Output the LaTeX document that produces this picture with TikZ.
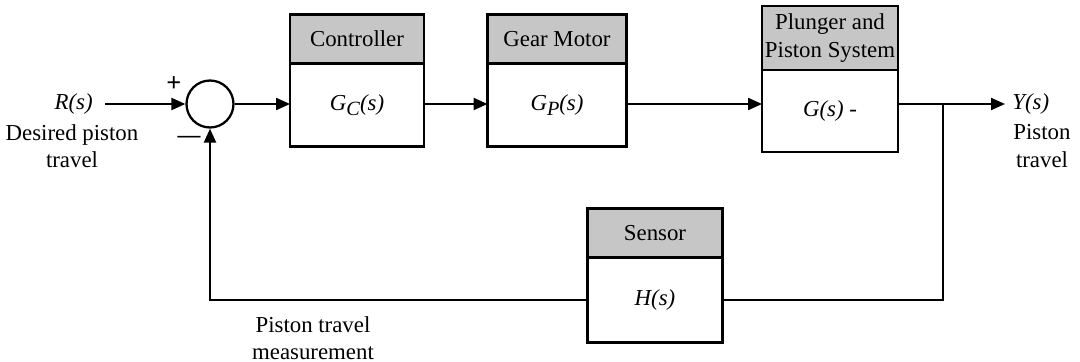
\documentclass[tikz,border=0pt]{standalone}
\usepackage{fontspec}
\setmainfont{Liberation Serif}
\usetikzlibrary{arrows.meta, positioning}

\newcommand{\lowsub}[1]{\raisebox{-0.45ex}{\fontsize{11.5}{12}\selectfont\textit{#1}}}

\begin{document}
\begin{tikzpicture}[
    x=0.02cm, y=-0.02cm,
    font=\fontsize{13}{15.5}\selectfont,
    body/.style={rectangle, draw, line width=1.3pt, fill=white, minimum height=1.66cm, inner sep=0pt, outer sep=0pt},
    header/.style={rectangle, draw, line width=1.3pt, fill=gray!45, minimum height=0.98cm, inner sep=0pt, outer sep=0pt, align=center},
    sumjunction/.style={circle, draw, line width=1.3pt, minimum size=0.94cm, inner sep=0pt},
    label/.style={align=center, inner sep=0pt},
    arrow/.style={-{Triangle[length=0.28cm, width=0.24cm]}, line width=1.3pt},
    line/.style={line width=1.3pt},
]
    \useasboundingbox (0,0) rectangle (1080,362);

    % summing junction and input
    \node[sumjunction] (sum) at (210,104) {};
    \coordinate (in) at (105,104);
    \node[label, anchor=east] (rlabel) at (93,104) {\textit{R(s)}};
    \node[label] (rtext) at (72,146) {Desired piston\\travel};
    \node[label, font=\fontsize{15}{15}\selectfont\bfseries] (plus) at (174,84) {+};
    \node[label, font=\fontsize{13}{15}\selectfont\bfseries] (minus) at (189,139) {\textemdash};

    % forward path blocks
    \node[body, minimum width=2.68cm] (ctrl) at (357,105) {\textit{G}\lowsub{C}\textit{(s)}};
    \node[header, minimum width=2.68cm, above=0pt of ctrl] (ctrlhead) {Controller};

    \node[body, minimum width=2.78cm] (motor) at (557,105) {\textit{G}\lowsub{P}\textit{(s)}};
    \node[header, minimum width=2.78cm, above=0pt of motor] (motorhead) {Gear Motor};

    \node[body, minimum width=2.72cm, minimum height=1.64cm] (plant) at (830,111) {\textit{G(s)} -};
    \node[header, minimum width=2.72cm, minimum height=1.28cm, above=0pt of plant] (planthead) {Plunger and\\Piston System};

    % feedback block
    \node[body, minimum width=2.7cm, minimum height=1.7cm] (sensor) at (655,300) {\textit{H(s)}};
    \node[header, minimum width=2.7cm, above=0pt of sensor] (sensorhead) {Sensor};

    % output
    \coordinate (branch) at (943,104);
    \coordinate (out) at (1005,104);
    \node[label, anchor=west] (ylabel) at (1012,104) {\textit{Y(s)}};
    \node[label] (ytext) at (1042,146) {Piston\\travel};
    \node[label] (mtext) at (313,338) {Piston travel\\measurement};

    \draw[arrow] (in) -- (sum);
    \draw[arrow] (sum) -- (sum -| ctrl.west);
    \draw[arrow] (sum -| ctrl.east) -- (sum -| motor.west);
    \draw[arrow] (sum -| motor.east) -- (sum -| plant.west);
    \draw[arrow] (sum -| plant.east) -- (out);
    \draw[line] (branch) |- (sensor.east);
    \draw[arrow] (sensor.west) -| (sum.south);
\end{tikzpicture}
\end{document}
